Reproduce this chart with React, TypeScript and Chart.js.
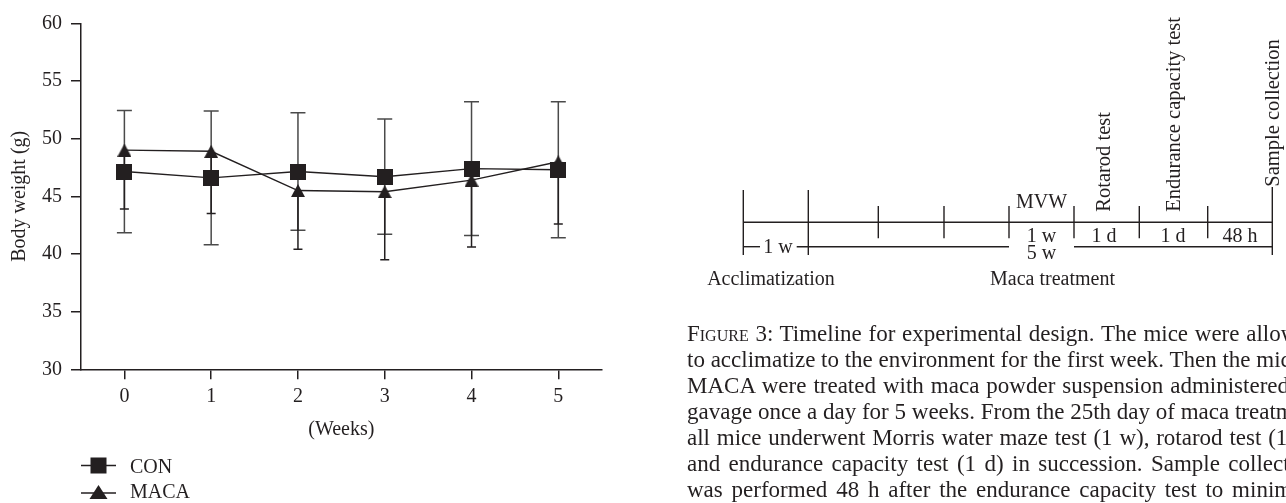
import React, { useEffect, useRef } from "react";
import { Chart, registerables } from "chart.js";

Chart.register(...registerables);

// ---- data ----
const weeks = ["0", "1", "2", "3", "4", "5"];
const conMean = [47.15, 46.6, 47.15, 46.7, 47.4, 47.3];
const conSD = [5.3, 5.8, 5.1, 5.0, 5.8, 5.9];
const macaMean = [49.0, 48.9, 45.5, 45.4, 46.4, 48.0];
const macaSD = [5.1, 5.4, 5.1, 5.9, 5.8, 5.4];
const seriesNames = ["CON", "MACA"];
const yMin = 30;
const yMax = 60;
const yStep = 5;

const captionFirstWord = "Figure";
const captionLines = [
  " 3: Timeline for experimental design. The mice were allowed",
  "to acclimatize to the environment for the first week. Then the mice in",
  "MACA were treated with maca powder suspension administered by",
  "gavage once a day for 5 weeks. From the 25th day of maca treatment,",
  "all mice underwent Morris water maze test (1 w), rotarod test (1 d),",
  "and endurance capacity test (1 d) in succession. Sample collection",
  "was performed 48 h after the endurance capacity test to minimize",
];

const INK = "#231f20";
const FONT = "'Liberation Serif', 'Times New Roman', serif";

function makeSquare(size: number) {
  const c = document.createElement("canvas");
  c.width = size;
  c.height = size;
  const g = c.getContext("2d")!;
  g.fillStyle = INK;
  g.fillRect(0, 0, size, size);
  return c;
}

function makeTriangle(w: number, h: number) {
  const c = document.createElement("canvas");
  c.width = w;
  c.height = h;
  const g = c.getContext("2d")!;
  g.fillStyle = INK;
  g.beginPath();
  g.moveTo(w / 2, 0);
  g.lineTo(w, h);
  g.lineTo(0, h);
  g.closePath();
  g.fill();
  return c;
}

const errorBarsPlugin = {
  id: "errorBars",
  beforeDatasetsDraw(chart: any) {
    const { ctx } = chart;
    const x = chart.scales.x;
    const y = chart.scales.y;
    const draw = (
      means: number[],
      sds: number[],
      up: boolean,
      capW: number,
      color: string
    ) => {
      ctx.save();
      ctx.strokeStyle = color;
      ctx.lineWidth = 1.5;
      means.forEach((m, i) => {
        const px = x.getPixelForValue(i);
        const top = y.getPixelForValue(up ? m + sds[i] : m);
        const bot = y.getPixelForValue(m - sds[i]);
        ctx.beginPath();
        ctx.moveTo(px, top);
        ctx.lineTo(px, bot);
        if (up) {
          ctx.moveTo(px - capW / 2, top);
          ctx.lineTo(px + capW / 2, top);
        }
        ctx.moveTo(px - capW / 2, bot);
        ctx.lineTo(px + capW / 2, bot);
        ctx.stroke();
      });
      ctx.restore();
    };
    draw(conMean, conSD, true, 15, "#4a4a4a");
    draw(macaMean, macaSD, false, 9, INK);
  },
};

function BodyWeightChart() {
  const ref = useRef<HTMLCanvasElement | null>(null);
  useEffect(() => {
    if (!ref.current) return;
    const square = makeSquare(16);
    const tri = makeTriangle(14, 13);
    const chart = new Chart(ref.current, {
      type: "line",
      data: {
        labels: weeks,
        datasets: [
          {
            label: seriesNames[0],
            data: conMean,
            borderColor: INK,
            backgroundColor: INK,
            borderWidth: 1.4,
            pointStyle: square as any,
            pointRadius: 8,
            tension: 0,
            fill: false,
          },
          {
            label: seriesNames[1],
            data: macaMean,
            borderColor: INK,
            backgroundColor: INK,
            borderWidth: 1.4,
            pointStyle: tri as any,
            pointRadius: 8,
            tension: 0,
            fill: false,
          },
        ],
      },
      options: {
        animation: false,
        responsive: false,
        maintainAspectRatio: false,
        layout: { padding: { left: 0, top: 23.3, right: 38.3, bottom: 61.7 } },
        plugins: {
          legend: { display: false },
          tooltip: { enabled: false },
        },
        scales: {
          x: {
            type: "category",
            offset: true,
            afterFit: (s: any) => {
              s.height = 72;
            },
            grid: {
              display: true,
              offset: false,
              drawOnChartArea: false,
              drawTicks: true,
              tickLength: 10,
              color: INK,
              lineWidth: 1.5,
            },
            border: { display: true, color: INK, width: 1.5 },
            ticks: {
              color: INK,
              padding: 5,
              font: { family: FONT, size: 20 },
              maxRotation: 0,
            },
            title: {
              display: true,
              text: "(Weeks)",
              color: INK,
              font: { family: FONT, size: 20 },
              padding: { top: 0, bottom: 0 },
            },
          },
          y: {
            type: "linear",
            min: yMin,
            max: yMax,
            afterFit: (s: any) => {
              s.width = 81;
            },
            grid: {
              display: true,
              drawOnChartArea: false,
              drawTicks: true,
              tickLength: 10,
              color: INK,
              lineWidth: 1.5,
            },
            border: { display: true, color: INK, width: 1.5 },
            ticks: {
              stepSize: yStep,
              color: INK,
              padding: 9,
              font: { family: FONT, size: 20 },
            },
            title: {
              display: true,
              text: "Body weight (g)",
              color: INK,
              font: { family: FONT, size: 20 },
              padding: { top: 8, bottom: 0 },
            },
          },
        },
      },
      plugins: [errorBarsPlugin],
    });
    return () => chart.destroy();
  }, []);
  return (
    <canvas
      ref={ref}
      width={640}
      height={503}
      style={{ position: "absolute", left: 0, top: 0, width: 640, height: 503 }}
    />
  );
}

function Overlay() {
  const line = { stroke: INK, strokeWidth: 1.4 };
  const txt = {
    fontFamily: FONT,
    fontSize: 20,
    fill: INK,
  } as any;
  const rot = { ...txt, fontSize: 20.5 };
  const shortTicks = [878.3, 944, 1009, 1074, 1139.3, 1207.7];
  return (
    <svg
      width={1286}
      height={503}
      style={{ position: "absolute", left: 0, top: 0, pointerEvents: "none" }}
    >
      {/* legend */}
      <line x1={81} y1={465.5} x2={116} y2={465.5} {...line} strokeWidth={1.5} />
      <rect x={90.5} y={457.5} width={16} height={16} fill={INK} />
      <text x={130} y={466} dominantBaseline="central" style={txt}>
        {seriesNames[0]}
      </text>
      <line x1={81} y1={493} x2={116} y2={493} {...line} strokeWidth={1.5} />
      <polygon points="98.5,485 107.5,499 89.5,499" fill={INK} />
      <text x={130} y={491} dominantBaseline="central" style={txt}>
        {seriesNames[1]}
      </text>

      {/* timeline */}
      <line x1={743.3} y1={190} x2={743.3} y2={255} {...line} />
      <line x1={808.3} y1={190} x2={808.3} y2={255} {...line} />
      <line x1={743.3} y1={222.3} x2={1272.3} y2={222.3} {...line} />
      {shortTicks.map((tx) => (
        <line key={tx} x1={tx} y1={206} x2={tx} y2={238.3} {...line} />
      ))}
      <line x1={1272.3} y1={187} x2={1272.3} y2={255} {...line} />
      <line x1={743.3} y1={246.7} x2={760} y2={246.7} {...line} />
      <line x1={796.7} y1={246.7} x2={1009} y2={246.7} {...line} />
      <line x1={1074} y1={246.7} x2={1272.3} y2={246.7} {...line} />

      <text x={778} y={246} textAnchor="middle" dominantBaseline="central" style={txt}>1 w</text>
      <text x={1041.5} y={201} textAnchor="middle" dominantBaseline="central" style={txt}>MVW</text>
      <text x={1041.5} y={235} textAnchor="middle" dominantBaseline="central" style={txt}>1 w</text>
      <text x={1041.5} y={252} textAnchor="middle" dominantBaseline="central" style={txt}>5 w</text>
      <text x={1104} y={235} textAnchor="middle" dominantBaseline="central" style={txt}>1 d</text>
      <text x={1173} y={235} textAnchor="middle" dominantBaseline="central" style={txt}>1 d</text>
      <text x={1240} y={235} textAnchor="middle" dominantBaseline="central" style={txt}>48 h</text>
      <text x={771} y={278} textAnchor="middle" dominantBaseline="central" style={txt}>Acclimatization</text>
      <text x={1052.5} y={278} textAnchor="middle" dominantBaseline="central" style={txt}>Maca treatment</text>

      <text transform="translate(1103,211.7) rotate(-90)" textAnchor="start" dominantBaseline="central" style={rot}>Rotarod test</text>
      <text transform="translate(1173,211.7) rotate(-90)" textAnchor="start" dominantBaseline="central" style={rot}>Endurance capacity test</text>
      <text transform="translate(1272,186.7) rotate(-90)" textAnchor="start" dominantBaseline="central" style={rot}>Sample collection</text>
    </svg>
  );
}

function Caption() {
  return (
    <>
      {captionLines.map((ln, i) => (
        <div
          key={i}
          style={{
            position: "absolute",
            left: 687,
            top: 334 + 26 * i - 13,
            width: 632,
            height: 26,
            lineHeight: "26px",
            fontFamily: FONT,
            fontSize: 23,
            color: INK,
            whiteSpace: "nowrap",
            textAlign: "justify",
            textAlignLast: "justify" as any,
          }}
        >
          {i === 0 ? (
            <>
              <span style={{ fontVariant: "small-caps" }}>{captionFirstWord}</span>
              {ln}
            </>
          ) : (
            ln
          )}
        </div>
      ))}
    </>
  );
}

export default function App() {
  return (
    <div
      style={{
        position: "absolute",
        left: 0,
        top: 0,
        width: 1286,
        height: 503,
        overflow: "hidden",
        background: "#fff",
      }}
    >
      <BodyWeightChart />
      <Overlay />
      <Caption />
    </div>
  );
}
